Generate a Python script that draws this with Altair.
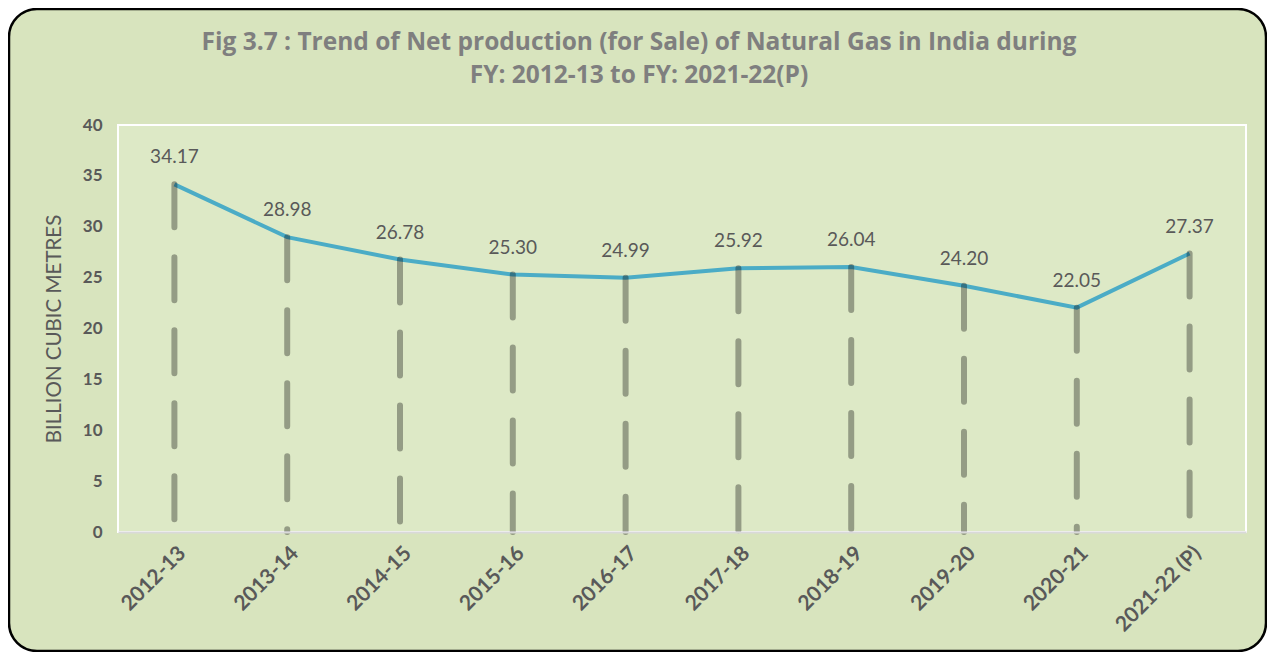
import altair as alt
import pandas as pd

years = ["2012-13", "2013-14", "2014-15", "2015-16", "2016-17",
         "2017-18", "2018-19", "2019-20", "2020-21", "2021-22 (P)"]
values = [34.17, 28.98, 26.78, 25.30, 24.99, 25.92, 26.04, 24.20, 22.05, 27.37]
title_lines = ["Fig 3.7 : Trend of Net production (for Sale) of Natural Gas in India during",
               "FY: 2012-13 to FY: 2021-22(P)"]

df = pd.DataFrame({"year": years, "value": values,
                   "label": [f"{v:.2f}" for v in values]})

W, H = 1128, 407
FONT = "Lato"
TXT = "#595959"

xenc = alt.X("year:N", sort=years,
             scale=alt.Scale(type="point", padding=0.5),
             axis=alt.Axis(title=None, labelAngle=-45, labelFont=FONT,
                           labelFontSize=21, labelFontWeight="bold",
                           labelColor=TXT, ticks=False, labelPadding=10,
                           domainColor="#d9d9d9", domainWidth=2, zindex=1))
yscale = alt.Scale(domain=[0, 40])
yenc = alt.Y("value:Q", scale=yscale,
             axis=alt.Axis(title="BILLION CUBIC METRES", values=list(range(0, 41, 5)),
                           grid=False, domain=False, ticks=False,
                           labelFont=FONT, labelFontSize=17, labelFontWeight="bold",
                           labelColor=TXT, labelPadding=16,
                           titleFont=FONT, titleFontSize=20.5, titleFontWeight="normal",
                           titleColor=TXT, titlePadding=18, zindex=1))

one = pd.DataFrame({"k": [0]})
frame = alt.Chart(one).mark_rect(
    fill="#d8e4be", stroke="black", strokeWidth=2.5, cornerRadius=28
).encode(x=alt.value(-109), x2=alt.value(1148), y=alt.value(-116), y2=alt.value(526))

plotbg = alt.Chart(one).mark_rect(
    fill="#dde9c6", stroke="white", strokeWidth=2
).encode(x=alt.value(0), x2=alt.value(W), y=alt.value(0), y2=alt.value(H))

t1 = alt.Chart(one).mark_text(
    text=title_lines[0], font="Open Sans", fontSize=24.5, fontWeight="bold",
    color="#7f7f7f", align="center", baseline="middle"
).encode(x=alt.value(521), y=alt.value(-82))
t2 = alt.Chart(one).mark_text(
    text=title_lines[1], font="Open Sans", fontSize=24.5, fontWeight="bold",
    color="#7f7f7f", align="center", baseline="middle"
).encode(x=alt.value(521), y=alt.value(-49))

base = alt.Chart(df)
line = base.mark_line(color="#4bacc6", strokeWidth=4).encode(x=xenc, y=yenc)
rules = base.mark_rule(color="black", opacity=0.33, strokeWidth=6,
                       strokeDash=[43, 30], strokeCap="round").encode(
    x=alt.X("year:N", sort=years), y=alt.Y("value:Q"), y2=alt.datum(0))
labels = base.mark_text(font=FONT, fontSize=19, color=TXT, dy=-27).encode(
    x=alt.X("year:N", sort=years), y=alt.Y("value:Q"), text="label:N")

chart = alt.layer(frame, plotbg, t1, t2, line, rules, labels).properties(
    width=W, height=H,
    autosize=alt.AutoSizeParams(type="none"),
    padding={"left": 110, "top": 117, "right": 21, "bottom": 120},
    background="white",
).configure_view(stroke=None)

chart.save("out.html", embed_options={"renderer": "svg", "actions": False})
